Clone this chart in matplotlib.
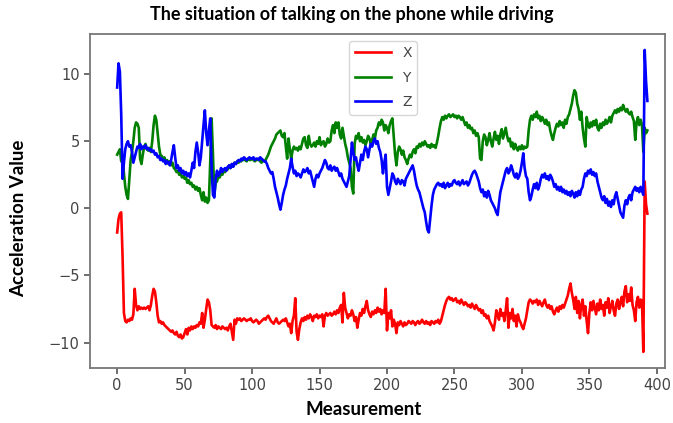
import matplotlib.pyplot as plt

# accelerometer readings, one sample per measurement step
acc_x = [
    -1.8, -0.8, -0.4, -0.3, -3.6, -7.8, -8.4, -8.5, -8.3, -8.4,
    -8.2, -8.3, -7.9, -6.0, -7.2, -7.6, -7.3, -7.5, -7.4, -7.5,
    -7.4, -7.5, -7.4, -7.3, -7.6, -7.2, -6.5, -6.0, -6.2, -7.0,
    -8.0, -8.5, -8.4, -8.6, -8.5, -8.7, -8.8, -8.9, -9.0, -9.1,
    -9.2, -9.1, -9.3, -9.4, -9.2, -9.5, -9.6, -9.4, -9.7, -9.6,
    -9.3, -9.0, -9.4, -8.9, -9.1, -8.8, -9.0, -8.8, -8.9, -8.7,
    -8.8, -8.5, -8.6, -7.8, -8.9, -8.3, -7.5, -6.8, -7.0, -7.6,
    -8.7, -8.8, -8.9, -8.7, -9.0, -8.8, -8.9, -9.0, -8.8, -8.9,
    -9.0, -8.9, -9.1, -8.8, -8.6, -9.2, -9.8, -8.3, -8.6, -8.2,
    -8.3, -8.2, -8.4, -8.3, -8.2, -8.3, -8.4, -8.3, -8.3, -8.2,
    -8.4, -8.5, -8.4, -8.3, -8.4, -8.6, -8.5, -8.4, -8.3, -8.2,
    -8.3, -8.1, -8.0, -8.2, -8.4, -8.5, -8.6, -8.4, -8.2, -8.5,
    -8.6, -8.5, -8.4, -8.3, -8.4, -8.2, -8.5, -8.8, -8.6, -9.3,
    -8.4, -8.0, -6.7, -9.2, -9.8, -9.0, -8.5, -8.2, -8.4, -8.1,
    -8.3, -8.0, -8.2, -7.9, -8.1, -8.4, -8.0, -8.1, -7.9, -8.2,
    -8.0, -8.1, -7.9, -8.8, -8.0, -7.8, -8.0, -7.9, -7.8, -8.0,
    -7.9, -7.7, -7.9, -7.6, -7.8, -7.4, -7.2, -8.5, -6.3, -7.4,
    -7.8, -8.2, -7.9, -8.0, -7.6, -7.9, -8.4, -8.1, -8.9, -8.3,
    -7.8, -8.0, -7.5, -7.8, -7.3, -6.9, -7.6, -7.9, -8.1, -7.7,
    -7.9, -7.6, -7.8, -7.4, -7.7, -7.5, -7.9, -7.6, -7.8, -6.0,
    -9.1, -7.8, -8.2, -7.6, -8.8, -8.3, -8.6, -9.3, -8.5, -8.7,
    -8.4, -8.6, -8.8, -8.5, -8.7, -8.6, -8.4, -8.5, -8.6, -8.4,
    -8.5, -8.7, -8.5, -8.4, -8.6, -8.5, -8.3, -8.5, -8.6, -8.4,
    -8.6, -8.5, -8.7, -8.4, -8.5, -8.6, -8.4, -8.5, -8.3, -8.6,
    -8.4, -8.0, -7.6, -7.2, -6.9, -6.7, -6.6, -6.8, -6.7, -6.9,
    -6.8, -6.7, -7.0, -6.9, -7.1, -6.8, -7.0, -7.2, -7.0, -7.1,
    -7.3, -7.2, -7.4, -7.1, -7.3, -7.5, -7.2, -7.4, -7.6, -7.5,
    -7.8, -7.6, -8.0, -7.9, -8.2, -8.0, -8.4, -8.6, -8.8, -9.1,
    -8.5, -7.6, -7.9, -8.3, -7.5, -8.0, -7.8, -8.4, -7.6, -6.7,
    -8.9, -7.8, -8.2, -7.5, -8.4, -8.0, -8.8, -7.9, -8.3, -8.5,
    -8.8, -9.0, -8.6, -8.2, -7.6, -7.0, -6.8, -6.9, -7.1, -6.9,
    -7.0, -6.8, -7.2, -6.9, -7.1, -7.3, -7.0, -6.8, -7.2, -7.4,
    -7.2, -7.5, -7.3, -7.7, -7.9, -7.6, -7.4, -7.7, -7.3, -7.5,
    -7.2, -7.4, -7.1, -6.8, -6.5, -6.0, -5.6, -6.3, -6.8, -7.5,
    -6.6, -7.8, -6.9, -8.2, -7.2, -6.8, -8.0, -7.3, -8.4, -9.3,
    -7.8, -7.0, -7.6, -6.9, -7.4, -7.9, -7.1, -7.6, -6.8, -7.5,
    -7.2, -8.0, -7.0, -7.4, -6.7, -7.8, -7.3, -6.9, -7.6, -8.0,
    -7.1, -6.8, -7.5, -7.0, -6.6, -7.3, -6.2, -5.8, -7.0, -6.4,
    -6.9, -5.9, -7.2, -7.6, -8.4, -7.0, -6.6, -7.4, -6.8, -6.9,
    -10.7, 2.0, 0.3, -0.4,
]

acc_y = [
    4.0, 4.2, 4.4, 3.5, 3.8, 2.6, 1.6, 1.0, 0.7, 2.2,
    3.6, 4.2, 5.0, 6.0, 6.4, 6.3, 6.0, 3.7, 3.3, 4.0,
    4.6, 4.8, 4.4, 4.3, 4.5, 4.2, 5.0, 6.2, 6.9, 6.6,
    5.6, 4.6, 4.0, 3.9, 3.6, 3.8, 3.4, 3.6, 3.3, 3.5,
    3.2, 3.4, 3.0, 2.9, 2.7, 2.8, 2.5, 2.6, 2.3, 2.4,
    2.2, 2.3, 1.9, 2.1, 1.8, 1.9, 1.6, 1.7, 1.4, 1.6,
    1.3, 1.5, 1.0, 0.6, 1.2, 0.5, 0.8, 0.4, 0.6, 3.5,
    6.7, 4.0, 1.0, 1.9, 2.0, 2.4, 2.3, 2.6, 2.5, 2.8,
    2.7, 3.0, 2.9, 3.2, 3.0, 3.3, 3.1, 3.4, 3.3, 3.5,
    3.4, 3.6, 3.5, 3.7, 3.6, 3.6, 3.5, 3.7, 3.6, 3.6,
    3.7, 3.6, 3.5, 3.6, 3.6, 3.7, 3.5, 3.4, 3.6, 3.5,
    3.6, 3.8, 4.0, 4.3, 4.6, 4.8, 5.0, 5.2, 5.5, 5.6,
    5.7, 5.8, 5.4, 5.3, 5.6, 4.6, 3.7, 5.2, 4.4, 3.7,
    4.3, 4.6, 4.4, 4.5, 4.3, 4.6, 4.4, 4.8, 5.2, 5.3,
    4.7, 4.5, 5.4, 4.8, 4.6, 4.7, 4.9, 4.6, 5.0, 4.8,
    5.3, 4.7, 4.9, 5.0, 4.6, 4.8, 5.2, 4.9, 5.0, 5.8,
    6.2, 5.6, 6.4, 6.0, 6.4, 5.5, 5.2, 6.0, 5.4, 4.8,
    4.4, 3.8, 3.4, 3.0, 1.6, 1.1, 4.8, 5.4, 5.2, 5.6,
    5.0, 5.3, 4.9, 5.1, 4.7, 5.0, 5.4, 5.2, 4.8, 5.1,
    5.5, 5.2, 5.8, 6.0, 6.4, 6.2, 6.6, 6.4, 5.8, 6.2,
    6.0, 5.6, 6.2, 6.5, 6.7, 5.4, 4.0, 3.2, 4.2, 4.6,
    4.4, 4.0, 4.3, 3.8, 3.6, 3.3, 3.7, 4.0, 3.8, 4.2,
    4.4, 4.1, 4.6, 4.5, 4.8, 4.6, 4.9, 4.7, 5.0, 4.8,
    4.6, 4.7, 4.5, 4.8, 4.6, 4.7, 4.5, 4.9, 5.4, 6.0,
    6.5, 6.8, 6.6, 6.9, 6.7, 6.9, 7.0, 6.8, 6.9, 7.0,
    6.8, 6.9, 6.7, 6.9, 6.8, 6.6, 6.8, 6.5, 6.2, 6.4,
    6.0, 6.2, 5.9, 6.0, 5.6, 5.8, 5.4, 5.6, 5.3, 3.7,
    3.6, 5.0, 5.5, 5.3, 4.7, 5.1, 5.6, 5.0, 4.6, 5.2,
    5.7, 5.1, 5.4, 4.8, 5.5, 5.9, 5.2, 5.6, 6.0, 5.4,
    5.0, 5.2, 4.6, 4.9, 4.4, 4.8, 4.5, 4.3, 4.6, 4.4,
    4.7, 4.4, 4.6, 4.5, 4.6, 5.8, 6.6, 6.9, 6.6, 7.0,
    6.8, 7.2, 6.7, 6.9, 6.5, 6.8, 6.6, 6.3, 6.6, 6.2,
    6.4, 5.8, 5.4, 5.1, 5.6, 6.0, 6.3, 6.1, 6.5, 6.2,
    6.4, 6.0, 6.6, 6.3, 6.8, 7.0, 7.4, 7.8, 8.4, 8.8,
    8.6, 7.8, 7.4, 6.6, 7.2, 6.0, 5.2, 4.6, 6.8, 6.2,
    6.0, 6.4, 6.1, 6.5, 6.2, 6.6, 6.0, 5.8, 6.3, 6.0,
    6.4, 6.2, 6.6, 6.3, 6.5, 6.8, 6.4, 6.9, 7.1, 7.3,
    7.1, 7.4, 7.2, 7.5, 7.3, 7.7, 7.4, 7.2, 7.4, 7.1,
    7.0, 7.2, 6.8, 6.5, 5.1, 6.4, 6.8, 6.2, 6.6, 6.2,
    4.2, 6.0, 5.6, 5.8,
]

acc_z = [
    9.0, 10.8, 10.2, 7.0, 2.2, 3.4, 4.4, 4.8, 5.0, 4.6,
    4.7, 4.2, 3.4, 3.8, 4.2, 4.6, 4.5, 4.8, 4.4, 4.6,
    4.5, 4.7, 4.4, 4.5, 4.3, 4.4, 4.2, 4.3, 4.0, 4.1,
    3.8, 3.9, 3.6, 3.7, 3.5, 3.6, 3.3, 3.5, 3.4, 3.2,
    3.6, 4.2, 4.7, 3.8, 3.0, 3.2, 2.8, 3.0, 2.6, 2.8,
    2.5, 2.7, 2.4, 2.6, 2.3, 2.8, 3.4, 3.0, 4.2, 4.9,
    4.2, 3.2, 3.8, 5.0, 6.2, 7.3, 5.6, 4.7, 5.8, 6.7,
    3.0, 1.0, 0.8, 2.2, 2.8, 2.4, 2.6, 3.0, 2.7, 2.9,
    3.0, 2.8, 3.1, 3.2, 3.0, 3.3, 3.1, 3.4, 3.3, 3.5,
    3.6, 3.5, 3.7, 3.6, 3.8, 3.7, 3.6, 3.7, 3.8, 3.7,
    3.7, 3.8, 3.6, 3.7, 3.7, 3.6, 3.8, 3.7, 3.6, 3.5,
    3.5, 3.3, 3.0, 2.8, 2.6, 2.7, 2.2, 1.6, 1.2, 0.8,
    0.3, -0.1, 0.4, 1.0, 1.4, 1.7, 2.2, 2.6, 3.0, 3.7,
    3.1, 2.6, 2.8, 2.4, 2.6, 2.5, 2.3, 2.6, 2.9, 2.7,
    2.8, 3.0, 2.6, 2.8, 2.4, 2.0, 1.6, 2.2, 2.5, 2.3,
    2.6, 2.8, 3.0, 3.3, 3.6, 3.4, 3.0, 2.9, 3.2, 2.8,
    3.0, 3.1, 2.8, 3.0, 2.7, 2.4, 2.6, 2.2, 2.0, 1.8,
    1.6, 2.0, 2.4, 3.6, 4.9, 4.2, 3.6, 3.8, 3.2, 2.8,
    3.4, 4.0, 3.6, 4.2, 4.6, 4.4, 3.8, 4.4, 4.8, 4.6,
    5.0, 5.2, 4.8, 5.0, 4.5, 4.2, 3.6, 2.6, 3.4, 4.0,
    1.6, 1.0, 1.5, 2.0, 2.6, 2.4, 2.0, 1.8, 2.2, 2.0,
    1.8, 2.1, 2.0, 1.7, 2.2, 2.4, 2.6, 2.8, 3.0, 3.2,
    2.8, 2.2, 1.7, 1.4, 1.2, 0.8, 0.4, 0.0, -0.3, -1.0,
    -1.6, -1.8, -0.8, 0.2, 1.0, 1.4, 1.6, 1.8, 1.9, 1.7,
    1.8, 1.6, 1.9, 1.5, 1.7, 1.9, 1.6, 1.8, 1.7, 2.0,
    2.1, 1.9, 1.8, 2.0, 1.7, 1.9, 2.1, 1.8, 1.9, 2.0,
    1.7, 1.9, 2.2, 2.5, 2.7, 2.8, 2.6, 2.3, 2.0, 1.5,
    1.2, 1.4, 0.9, 1.2, 0.8, 1.3, 1.0, 0.6, 0.4, 0.2,
    0.0, -0.3, -0.5, 0.4, 1.2, 1.6, 2.0, 2.4, 2.8, 3.0,
    2.6, 2.8, 3.2, 2.9, 2.5, 2.3, 2.6, 2.2, 2.4, 2.8,
    3.4, 4.1, 3.0, 2.4, 2.2, 1.2, 0.6, 0.9, 1.4, 1.8,
    1.5, 1.9, 1.4, 1.7, 2.2, 2.5, 2.3, 2.6, 2.2, 2.4,
    2.1, 2.5, 2.3, 2.0, 1.6, 1.8, 1.4, 1.6, 1.3, 1.6,
    1.2, 1.4, 1.1, 1.3, 1.0, 1.2, 0.9, 1.3, 1.1, 0.8,
    1.2, 0.9, 1.3, 1.0, 1.4, 1.6, 2.2, 2.6, 2.4, 2.8,
    2.6, 2.9, 2.5, 2.7, 2.4, 2.6, 2.0, 1.6, 1.2, 0.8,
    0.6, 0.9, 0.4, 0.7, 0.2, 0.5, 0.1, 0.6, 0.3, 0.9,
    1.2, 0.7, 0.2, -0.3, -0.5, -0.7, 0.2, 0.6, 0.3, 0.8,
    1.0, 0.6, 1.2, 1.4, 1.6, 1.3, 1.5, 1.2, 1.6, 1.3,
    1.0, 11.8, 9.5, 8.0,
]

x_ticks = [0, 50, 100, 150, 200, 250, 300, 350, 400]
y_ticks = [-10, -5, 0, 5, 10]

fig = plt.figure(figsize=(6.73, 4.23), dpi=100)
ax = fig.add_axes([0.134, 0.130, 0.854, 0.790])

steps = range(len(acc_x))
ax.plot(steps, acc_x, color='red', lw=1.9, label='X')
ax.plot(steps, acc_y, color='green', lw=1.9, label='Y')
ax.plot(steps, acc_z, color='blue', lw=1.9, label='Z')

ax.set_xlim(-20, 406)
ax.set_ylim(-11.9, 13.0)
ax.set_xticks(x_ticks)
ax.set_yticks(y_ticks)
ax.tick_params(colors='#555555', labelcolor='#444444', labelsize=10.5, width=1.2, length=4)
for side in ax.spines.values():
    side.set_color('#777777')
    side.set_linewidth(1.3)

leg = ax.legend(loc='upper center', bbox_to_anchor=(0.51, 1.0), fontsize=10,
                handlelength=2.6, labelspacing=0.75)
for t in leg.get_texts():
    t.set_color('#444444')

# title and axis labels sit slightly left of the axes centre
label_font = dict(fontfamily='Lato', fontweight='bold')
fig.text(0.522, 0.966, 'The situation of talking on the phone while driving',
         ha='center', va='center', fontsize=13, **label_font)
fig.text(0.541, 0.031, 'Measurement', ha='center', va='center',
         fontsize=13.5, **label_font)
fig.text(0.027, 0.485, 'Acceleration Value', ha='center', va='center',
         rotation=90, fontsize=13.5, **label_font)

fig.savefig('out.png', dpi=100)
